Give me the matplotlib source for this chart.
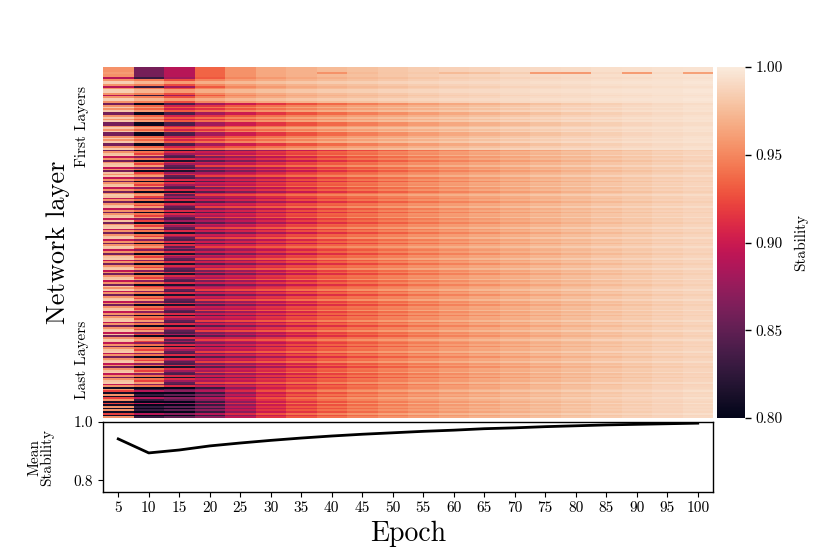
import numpy as np
import matplotlib
matplotlib.use("Agg")
import matplotlib.pyplot as plt
import seaborn as sns

plt.rcParams['font.family'] = ['cmr10', 'DejaVu Serif']
plt.rcParams['mathtext.fontset'] = 'cm'
plt.rcParams['axes.formatter.use_mathtext'] = True

# ---------------- data ----------------
epochs = [5, 10, 15, 20, 25, 30, 35, 40, 45, 50, 55, 60, 65, 70, 75, 80, 85, 90, 95, 100]

mean_stability = [0.942, 0.894, 0.904, 0.918, 0.928, 0.937, 0.945, 0.952, 0.958, 0.963,
                  0.968, 0.972, 0.977, 0.980, 0.984, 0.987, 0.990, 0.992, 0.994, 0.996]

# per-layer-type stability profiles over epochs
# first (stem / early) layers
stem_s = [0.955, 0.86, 0.89, 0.935, 0.955, 0.965, 0.97, 0.975, 0.978, 0.981, 0.984, 0.986, 0.988, 0.99, 0.991, 0.992, 0.993, 0.994, 0.995, 0.996]
stem_i = [0.96, 0.86, 0.89, 0.935, 0.955, 0.965, 0.97, 0.955, 0.975, 0.98, 0.982, 0.975, 0.978, 0.985, 0.96, 0.958, 0.99, 0.96, 0.992, 0.962]
first_k = [0.89, 0.83, 0.88, 0.93, 0.95, 0.958, 0.965, 0.97, 0.974, 0.977, 0.98, 0.983, 0.985, 0.987, 0.989, 0.99, 0.991, 0.992, 0.993, 0.994]
first_o = [0.955, 0.945, 0.925, 0.95, 0.96, 0.966, 0.971, 0.975, 0.978, 0.981, 0.984, 0.986, 0.988, 0.99, 0.991, 0.992, 0.993, 0.994, 0.995, 0.996]
first_l = [0.985, 0.972, 0.96, 0.968, 0.974, 0.978, 0.981, 0.983, 0.985, 0.987, 0.989, 0.99, 0.991, 0.992, 0.993, 0.994, 0.995, 0.996, 0.996, 0.997]
# second group
sec_a = [0.86, 0.805, 0.84, 0.88, 0.9, 0.915, 0.927, 0.937, 0.946, 0.953, 0.96, 0.965, 0.97, 0.974, 0.978, 0.982, 0.985, 0.988, 0.99, 0.992]
sec_b = [0.955, 0.935, 0.905, 0.915, 0.93, 0.94, 0.948, 0.955, 0.961, 0.966, 0.97, 0.974, 0.978, 0.981, 0.984, 0.986, 0.988, 0.99, 0.992, 0.994]
sec_c = [0.982, 0.96, 0.93, 0.94, 0.95, 0.957, 0.963, 0.968, 0.972, 0.976, 0.979, 0.982, 0.985, 0.987, 0.989, 0.991, 0.992, 0.993, 0.994, 0.995]
# middle layers
mid_K = [0.86, 0.805, 0.815, 0.845, 0.862, 0.882, 0.898, 0.912, 0.923, 0.932, 0.94, 0.947, 0.953, 0.959, 0.964, 0.969, 0.974, 0.978, 0.982, 0.985]
mid_O = [0.955, 0.94, 0.91, 0.9, 0.905, 0.915, 0.925, 0.934, 0.942, 0.949, 0.955, 0.96, 0.965, 0.969, 0.973, 0.977, 0.98, 0.983, 0.986, 0.988]
mid_P = [0.978, 0.92, 0.88, 0.885, 0.895, 0.908, 0.92, 0.93, 0.938, 0.946, 0.952, 0.958, 0.963, 0.967, 0.971, 0.975, 0.979, 0.982, 0.985, 0.988]
mid_L = [0.982, 0.96, 0.85, 0.92, 0.925, 0.932, 0.94, 0.948, 0.955, 0.96, 0.965, 0.969, 0.973, 0.977, 0.98, 0.983, 0.986, 0.988, 0.99, 0.992]
mid_R = [0.895, 0.87, 0.84, 0.862, 0.878, 0.893, 0.907, 0.92, 0.93, 0.938, 0.945, 0.952, 0.958, 0.963, 0.968, 0.972, 0.976, 0.98, 0.983, 0.986]
# last layers
last_X = [0.81, 0.80, 0.80, 0.83, 0.87, 0.9, 0.915, 0.927, 0.937, 0.945, 0.952, 0.958, 0.963, 0.968, 0.972, 0.976, 0.98, 0.983, 0.986, 0.989]
last_Y = [0.955, 0.83, 0.85, 0.87, 0.895, 0.915, 0.93, 0.94, 0.948, 0.955, 0.96, 0.965, 0.97, 0.974, 0.977, 0.98, 0.983, 0.986, 0.988, 0.99]
last_Z = [0.92, 0.89, 0.87, 0.89, 0.91, 0.928, 0.94, 0.95, 0.957, 0.963, 0.968, 0.972, 0.976, 0.979, 0.982, 0.985, 0.987, 0.989, 0.991, 0.993]

profiles = {
    's': stem_s, 'i': stem_i, 'k': first_k, 'o': first_o, 'l': first_l,
    'a': sec_a, 'b': sec_b, 'c': sec_c,
    'K': mid_K, 'O': mid_O, 'P': mid_P, 'L': mid_L, 'R': mid_R,
    'X': last_X, 'Y': last_Y, 'Z': last_Z,
}

# layer order, top (first) to bottom (last)
layer_types = (
    "sssiss"
    "kollokollokollo"
    "abcbcaabcbcaabcbcaabcbcaabc"
    "KOPLROKOPLROKPOLROKOPLRO"
    "KOLPROKOPLROKOPLRPKOPLRO"
    "KOPLROKOLPROKOPLROKOPLRO"
    "KOPLROKPOLROKOPLROKOPLRO"
    "KOPLROKOPLRPKOLPROKOPLRO"
    "KOPLROKOPLROKOPLRO"
    "XYZXYXZYXZXYXYXZXY"
)

first_label_row = 34
last_label_row = 170

matrix = np.array([profiles[t] for t in layer_types])

# ---------------- figure ----------------
W, H = 830, 554
fig = plt.figure(figsize=(W / 100, H / 100), dpi=100)
ax = fig.add_axes([103 / W, 1 - 418 / H, 610 / W, 351 / H])
cax = fig.add_axes([717 / W, 1 - 418 / H, 28 / W, 351 / H])
ax2 = fig.add_axes([103 / W, 1 - 492 / H, 610 / W, 70 / H])

cmap = sns.color_palette("rocket", as_cmap=True)
sns.heatmap(matrix, ax=ax, cmap=cmap, vmin=0.8, vmax=1.0, cbar_ax=cax,
            xticklabels=False, yticklabels=False)

ax.set_yticks([first_label_row + 0.5, last_label_row + 0.5])
ax.set_yticklabels(["First Layers", "Last Layers"], rotation=90, va='center', fontsize=11)
ax.tick_params(axis='y', length=0, pad=10)
ax.set_xticks([])
ax.set_ylabel("Network layer", fontsize=19, labelpad=4)

cax.set_yticks([0.80, 0.85, 0.90, 0.95, 1.00])
cax.set_yticklabels(["0.80", "0.85", "0.90", "0.95", "1.00"], fontsize=11)
cax.tick_params(axis='y', length=4, width=1)
cax.set_ylabel("Stability", fontsize=11, labelpad=8)

x = np.arange(len(epochs))
ax2.plot(x, mean_stability, color='black', lw=2)
ax2.set_xlim(-0.5, len(epochs) - 0.5)
ax2.set_ylim(0.76, 1.0)
ax2.set_yticks([0.8, 1.0])
ax2.set_yticklabels(["0.8", "1.0"], fontsize=11)
ax2.set_xticks(x)
ax2.set_xticklabels([str(e) for e in epochs], fontsize=11)
ax2.set_ylabel("Mean\nStability", fontsize=11, linespacing=0.85, labelpad=14)
ax2.set_xlabel("Epoch", fontsize=20, labelpad=4)
for sp in ax2.spines.values():
    sp.set_linewidth(1.0)

fig.savefig("out.png", dpi=100)
